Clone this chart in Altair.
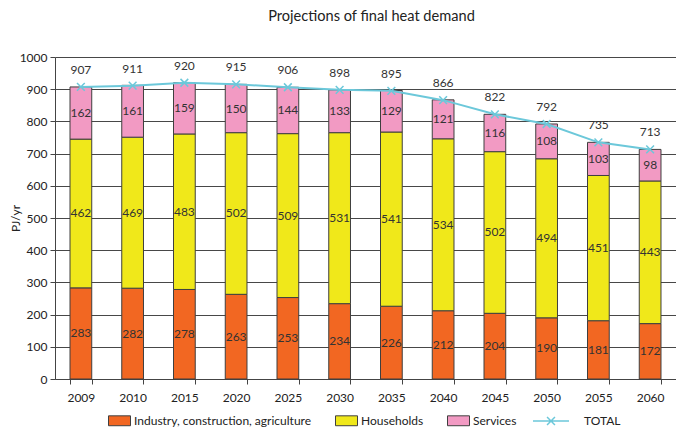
import altair as alt
import pandas as pd

years = ["2009", "2010", "2015", "2020", "2025", "2030", "2035", "2040", "2045", "2050", "2055", "2060"]
industry = [283, 282, 278, 263, 253, 234, 226, 212, 204, 190, 181, 172]
households = [462, 469, 483, 502, 509, 531, 541, 534, 502, 494, 451, 443]
services = [162, 161, 159, 150, 144, 133, 129, 121, 116, 108, 103, 98]
total = [907, 911, 920, 915, 906, 898, 895, 866, 822, 792, 735, 713]

series_names = ["Industry, construction, agriculture", "Households", "Services"]
series_colors = ["#F26722", "#F0E81A", "#F29AC3"]
line_color = "#6CC8DA"
FONT = "Lato"

rows = []
for i, yr in enumerate(years):
    for k, vals in enumerate([industry, households, services]):
        rows.append({"year": yr, "series": series_names[k], "ord": k, "value": vals[i]})
bars_df = pd.DataFrame(rows)
tot_df = pd.DataFrame({"year": years, "total": total, "key": ["TOTAL"] * len(years)})

xaxis = alt.Axis(labelAngle=0, tickBand="extent", labelFontSize=12, labelColor="#222",
                 domainColor="#444", tickColor="#444", tickSize=5, labelPadding=8, grid=False)
xenc = alt.X("year:N", sort=years, title=None,
             scale=alt.Scale(paddingInner=0.58, paddingOuter=0.29), axis=xaxis)
yscale = alt.Scale(domain=[0, 1000], nice=False)
yaxis = alt.Axis(values=list(range(0, 1001, 100)), format="d", labelOverlap=False,
                 title="PJ/yr", titleFontSize=12, titleFontWeight="normal", titleColor="#222",
                 titleX=-40, titleY=161, titleBaseline="middle", titleAngle=270,
                 labelFontSize=12, labelColor="#222", grid=True, gridColor="#474747",
                 domainColor="#444", tickColor="#444", tickSize=5, labelPadding=3)


def yenc(field):
    return alt.Y(field, scale=yscale, axis=yaxis)


LEG_Y = 352

bars = alt.Chart(bars_df).mark_bar(stroke="#3f3f3f", strokeWidth=1).encode(
    x=xenc,
    y=alt.Y("value:Q", stack="zero", scale=yscale, axis=yaxis),
    fill=alt.Fill("series:N", scale=alt.Scale(domain=series_names, range=series_colors),
                  legend=alt.Legend(orient="none", legendX=53, legendY=LEG_Y, direction="horizontal",
                                    title=None, symbolType="M-1,-0.45H1V0.45H-1Z", symbolSize=484,
                                    symbolStrokeColor="#3f3f3f", symbolStrokeWidth=1,
                                    labelFontSize=12, labelColor="#222", columnPadding=21,
                                    labelOffset=3, labelLimit=400)),
    order=alt.Order("ord:Q", sort="ascending"),
)

seg_text = alt.Chart(bars_df).transform_stack(
    stack="value", groupby=["year"], as_=["y0", "y1"], sort=[alt.SortField("ord", order="ascending")]
).transform_calculate(mid="(datum.y0 + datum.y1) / 2").mark_text(
    fontSize=12, color="#333", font=FONT
).encode(
    x=xenc,
    y=yenc("mid:Q"),
    text=alt.Text("value:Q"),
)

line = alt.Chart(tot_df).mark_line(strokeWidth=2).encode(
    x=xenc,
    y=yenc("total:Q"),
    stroke=alt.Stroke("key:N", scale=alt.Scale(domain=["TOTAL"], range=[line_color]),
                      legend=alt.Legend(orient="none", legendX=477, legendY=LEG_Y - 7, title=None,
                                        symbolType="M-1,0H1M-0.22,-0.22L0.22,0.22M-0.22,0.22L0.22,-0.22",
                                        symbolSize=1296, symbolStrokeWidth=1.5,
                                        symbolFillColor="transparent",
                                        labelFontSize=12, labelColor="#222", labelOffset=14)),
)

pts = alt.Chart(tot_df).mark_point(
    shape="M-1,-1L1,1M-1,1L1,-1", size=60, filled=False, stroke=line_color, strokeWidth=1.5, opacity=1
).encode(
    x=xenc,
    y=yenc("total:Q"),
)

tot_text = alt.Chart(tot_df).mark_text(dy=-17, fontSize=12, color="#333", font=FONT).encode(
    x=xenc,
    y=yenc("total:Q"),
    text=alt.Text("total:Q"),
)

chart = alt.layer(bars, seg_text, line, pts, tot_text).properties(
    width=621, height=322,
    title=alt.TitleParams("Projections of final heat demand", fontSize=14.6, fontWeight="normal",
                          color="#222", font=FONT, offset=27, anchor="middle", dx=6),
    autosize=alt.AutoSizeParams(type="none"),
    padding={"left": 47, "top": 49, "right": 0, "bottom": 51},
).configure(font=FONT).configure_view(stroke=None).configure_axis(
    labelFont=FONT, titleFont=FONT).configure_legend(labelFont=FONT)

chart.save("out.html", embed_options={"renderer": "svg", "actions": False})
